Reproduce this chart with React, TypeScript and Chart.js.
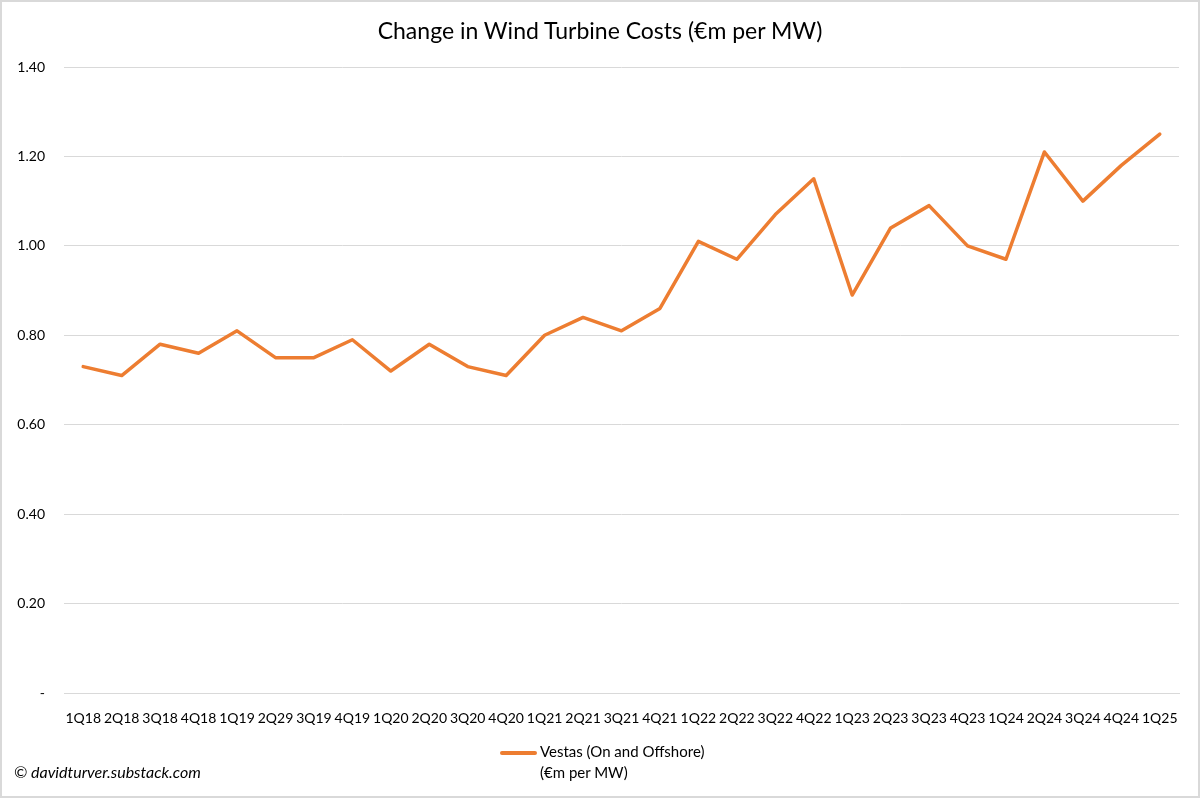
import React, { useEffect, useRef } from "react";
import { Chart, registerables } from "chart.js";

Chart.register(...registerables);

const categories: string[] = [
  "1Q18", "2Q18", "3Q18", "4Q18", "1Q19", "2Q29", "3Q19", "4Q19", "1Q20", "2Q20",
  "3Q20", "4Q20", "1Q21", "2Q21", "3Q21", "4Q21", "1Q22", "2Q22", "3Q22", "4Q22",
  "1Q23", "2Q23", "3Q23", "4Q23", "1Q24", "2Q24", "3Q24", "4Q24", "1Q25",
];

const vestasValues: number[] = [
  0.73, 0.71, 0.78, 0.76, 0.81, 0.75, 0.75, 0.79, 0.72, 0.78,
  0.73, 0.71, 0.80, 0.84, 0.81, 0.86, 1.01, 0.97, 1.07, 1.15,
  0.89, 1.04, 1.09, 1.00, 0.97, 1.21, 1.10, 1.18, 1.25,
];

const yMin = 0;
const yMax = 1.4;
const yStep = 0.2;

const titleText = "Change in Wind Turbine Costs (€m per MW)";
const legendLine1 = "Vestas (On and Offshore)";
const legendLine2 = "(€m per MW)";
const creditText = "© davidturver.substack.com";

const FONT = "Lato, 'Open Sans', sans-serif";
const ORANGE = "#ED7D31";

export default function App() {
  const canvasRef = useRef<HTMLCanvasElement | null>(null);

  useEffect(() => {
    document.body.style.margin = "0";
    const canvas = canvasRef.current;
    if (!canvas) return;
    const chart = new Chart(canvas, {
      type: "line",
      data: {
        labels: categories,
        datasets: [
          {
            label: legendLine1,
            data: vestasValues,
            borderColor: ORANGE,
            backgroundColor: ORANGE,
            borderWidth: 3.5,
            pointRadius: 0,
            pointHoverRadius: 0,
            tension: 0,
            borderJoinStyle: "round",
            borderCapStyle: "round",
          },
        ],
      },
      options: {
        responsive: false,
        animation: false,
        maintainAspectRatio: false,
        layout: { padding: { left: 0, right: 21, top: 67, bottom: 0 } },
        plugins: {
          legend: { display: false },
          title: { display: false },
          tooltip: { enabled: false },
        },
        scales: {
          x: {
            type: "category",
            offset: true,
            grid: { display: false, drawTicks: false },
            border: { display: true, color: "#d9d9d9", width: 1 },
            ticks: {
              autoSkip: false,
              maxRotation: 0,
              minRotation: 0,
              padding: 17,
              color: "#000",
              font: { family: FONT, size: 14 },
            },
            afterFit: (axis: any) => {
              axis.height = 105;
            },
          },
          y: {
            min: yMin,
            max: yMax,
            grid: { color: "#d9d9d9", lineWidth: 1, drawTicks: false },
            border: { display: false },
            ticks: {
              stepSize: yStep,
              padding: 19,
              color: "#000",
              font: { family: FONT, size: 14 },
              callback: (v: any) => (Math.abs(Number(v)) < 1e-9 ? "-" : Number(v).toFixed(2)),
            },
            afterFit: (axis: any) => {
              axis.width = 64;
            },
          },
        },
      },
    });
    return () => chart.destroy();
  }, []);

  return (
    <div
      style={{
        position: "absolute",
        left: 0,
        top: 0,
        width: 1200,
        height: 798,
        background: "#fff",
        fontFamily: FONT,
      }}
    >
      <canvas ref={canvasRef} width={1200} height={798} style={{ position: "absolute", left: 0, top: 0 }} />
      <div
        style={{
          position: "absolute",
          left: 0,
          top: 0,
          width: 1200,
          height: 798,
          boxSizing: "border-box",
          border: "2px solid #d9d9d9",
          pointerEvents: "none",
        }}
      />
      <div
        style={{
          position: "absolute",
          top: 16,
          left: 0,
          width: 1200,
          textAlign: "center",
          fontSize: 23,
          color: "#000",
        }}
      >
        {titleText}
      </div>
      <div style={{ position: "absolute", left: 500, top: 741, display: "flex", alignItems: "flex-start" }}>
        <div style={{ width: 37, height: 3.5, background: ORANGE, marginTop: 10, borderRadius: 2 }} />
        <div style={{ fontSize: 15, lineHeight: "21px", color: "#000", marginLeft: 3 }}>
          <div>{legendLine1}</div>
          <div>{legendLine2}</div>
        </div>
      </div>
      <div
        style={{
          position: "absolute",
          left: 14,
          top: 762,
          fontSize: 16,
          fontStyle: "italic",
          color: "#000",
        }}
      >
        {creditText}
      </div>
    </div>
  );
}
